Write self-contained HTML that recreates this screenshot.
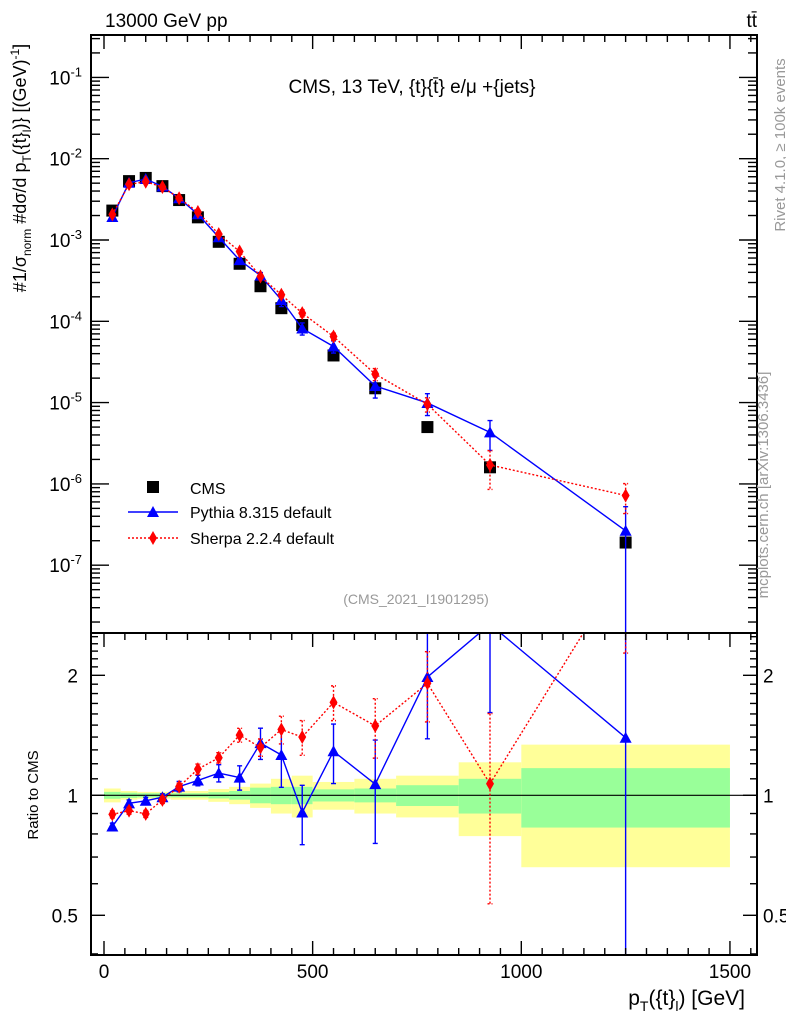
<!DOCTYPE html>
<html><head><meta charset="utf-8"><style>
html,body{margin:0;padding:0;background:#fff;overflow:hidden;width:786px;height:1024px;}
svg{display:block;}
svg text{font-family:"Liberation Sans",sans-serif;}
</style></head><body>
<svg id="c" width="786" height="1024" xmlns="http://www.w3.org/2000/svg">
<defs>
<clipPath id="cm"><rect x="91" y="35" width="666" height="598"/></clipPath>
<clipPath id="cr"><rect x="91" y="634" width="666" height="321"/></clipPath>
</defs>
<g id="bands" clip-path="url(#cr)"></g>
<g id="marks"></g>
<rect x="91" y="35" width="666" height="598" fill="none" stroke="#000" stroke-width="2"/>
<rect x="91" y="633" width="666" height="322" fill="none" stroke="#000" stroke-width="2"/>
<g id="axes"></g>
<text x="105" y="27" font-size="19">13000 GeV pp</text>
<text x="757" y="27" font-size="19" text-anchor="end">tt̄</text>
<text x="412" y="93" font-size="19" text-anchor="middle">CMS, 13 TeV, {t}{t̄} e/μ +{jets}</text>
<text x="416" y="604" font-size="14" fill="#999" text-anchor="middle">(CMS_2021_I1901295)</text>
<text transform="translate(785,145) rotate(-90)" font-size="15" fill="#999" text-anchor="middle">Rivet 4.1.0, ≥ 100k events</text>
<text transform="translate(768,485) rotate(-90)" font-size="15" fill="#999" text-anchor="middle">mcplots.cern.ch [arXiv:1306.3436]</text>
<text transform="translate(38,795) rotate(-90)" font-size="15" text-anchor="middle">Ratio to CMS</text>
<text transform="translate(26,168) rotate(-90)" font-size="18" text-anchor="middle">#1/σ<tspan font-size="12" dy="5">norm</tspan><tspan dy="-5"> #dσ/d p</tspan><tspan font-size="12" dy="5">T</tspan><tspan dy="-5">({t}</tspan><tspan font-size="12" dy="5">l</tspan><tspan dy="-5">)} [(GeV)</tspan><tspan font-size="12" dy="-7">-1</tspan><tspan dy="7">]</tspan></text>
<text x="745" y="1005" font-size="21" text-anchor="end">p<tspan font-size="14" dy="6">T</tspan><tspan dy="-6">({t}</tspan><tspan font-size="14" dy="6">l</tspan><tspan dy="-6">) [GeV]</tspan></text>
<g>
<rect x="147" y="481" width="12" height="12" fill="#000"/>
<text x="190" y="494" font-size="16">CMS</text>
<line x1="128" y1="512" x2="178" y2="512" stroke="#00f" stroke-width="1.5"/>
<path d="M153,506 L159,517 L147,517Z" fill="#00f"/>
<text x="190" y="518" font-size="16">Pythia 8.315 default</text>
<line x1="128" y1="538" x2="178" y2="538" stroke="#f00" stroke-width="1.5" stroke-dasharray="2,2"/>
<path d="M153,531 L157,538 L153,545 L149,538Z" fill="#f00"/>
<text x="190" y="544" font-size="16">Sherpa 2.2.4 default</text>
</g>
</svg>
<script>
const binEdges=[0,40,80,120,160,200,250,300,350,400,450,500,600,700,850,1000,1500];
const cms=[2.3e-3,5.3e-3,5.8e-3,4.6e-3,3.1e-3,1.9e-3,9.5e-4,5.1e-4,2.7e-4,1.45e-4,9e-5,3.8e-5,1.5e-5,5e-6,1.6e-6,1.9e-7];
const pythia=[1.92e-3,5.06e-3,5.62e-3,4.55e-3,3.26e-3,2.07e-3,1.08e-3,5.65e-4,3.65e-4,1.83e-4,8.15e-5,4.9e-5,1.6e-5,9.9e-6,4.3e-6,2.65e-7];
const pythiaErr=[0.02,0.02,0.02,0.02,0.03,0.03,0.05,0.07,0.09,0.17,0.17,0.17,0.29,0.3,0.4,0.98];
const sherpa=[2.06e-3,4.85e-3,5.21e-3,4.48e-3,3.26e-3,2.21e-3,1.18e-3,7.22e-4,3.56e-4,2.12e-4,1.26e-4,6.5e-5,2.24e-5,9.55e-6,1.71e-6,7.2e-7];
const sherpaErr=[0.02,0.02,0.02,0.02,0.02,0.03,0.03,0.04,0.05,0.08,0.1,0.1,0.17,0.2,0.5,0.4];
const statErr=[0.02,0.015,0.012,0.012,0.012,0.012,0.018,0.025,0.045,0.05,0.05,0.035,0.04,0.06,0.1,0.17];
const totErr=[0.04,0.025,0.02,0.02,0.025,0.025,0.037,0.05,0.07,0.1,0.12,0.08,0.1,0.12,0.21,0.34];
const xTicks=[0,500,1000,1500];
const yExps=[-7,-6,-5,-4,-3,-2,-1];
const rTicks=[0.5,1,2];

const NS='http://www.w3.org/2000/svg';
const X=v=>104+v*0.4173;
const Y=v=>240-81.3*Math.log10(v/1e-3);
const R=v=>795.3-398.6*Math.log10(v);
function el(t,a,p){const e=document.createElementNS(NS,t);for(const k in a)e.setAttribute(k,a[k]);(p||document.getElementById('marks')).appendChild(e);return e;}
const bands=document.getElementById('bands'),axes=document.getElementById('axes');
const centers=cms.map((_,i)=>(binEdges[i]+binEdges[i+1])/2);
for(let i=0;i<cms.length;i++){
 const x1=X(binEdges[i]),x2=X(binEdges[i+1]);
 const b=el('rect',{x:x1,y:R(1+totErr[i]),width:x2-x1,height:R(1-totErr[i])-R(1+totErr[i]),fill:'#ffff99'},bands);
 
 
 const g=el('rect',{x:x1,y:R(1+statErr[i]),width:x2-x1,height:R(1-statErr[i])-R(1+statErr[i]),fill:'#99ff99'},bands);
 
 
}
const one=el('line',{x1:91,x2:757,y1:R(1),y2:R(1),stroke:'#000','stroke-width':1.2},bands);


const gm=el('g',{'clip-path':'url(#cm)'});
const gr=el('g',{'clip-path':'url(#cr)'});
function series(vals,errs,col,dash,shape,name){
 const mp=vals.map((v,i)=>X(centers[i])+','+Y(v)).join(' ');
 const rp=vals.map((v,i)=>X(centers[i])+','+R(v/cms[i])).join(' ');
 const l1=el('polyline',{points:mp,fill:'none',stroke:col,'stroke-width':1.4,'stroke-dasharray':dash},gm);
 
 
 const l2=el('polyline',{points:rp,fill:'none',stroke:col,'stroke-width':1.4,'stroke-dasharray':dash},gr);
 
 
 vals.forEach((v,i)=>{
  const x=X(centers[i]);
  [[gm,Y(v),Y(v*(1+errs[i])),Y(Math.max(v*(1-errs[i]),1e-12))],[gr,R(v/cms[i]),R(v/cms[i]*(1+errs[i])),R(Math.max(v/cms[i]*(1-errs[i]),1e-6))]].forEach(([g,y,yt,yb],k)=>{
   const e=el('path',{d:`M${x},${yt}L${x},${yb}M${x-2.5},${yt}h5M${x-2.5},${yb}h5`,stroke:col,'stroke-width':1.4,fill:'none','stroke-dasharray':dash},g);
   
   
   const m=shape==='tri'?el('path',{d:`M${x},${y-6}L${x+6},${y+5}L${x-6},${y+5}Z`,fill:col},g):el('path',{d:`M${x},${y-7}L${x+4},${y}L${x},${y+7}L${x-4},${y}Z`,fill:col},g);
   
   
  });
 });
}
cms.forEach((v,i)=>{
 const m=el('rect',{x:X(centers[i])-6,y:Y(v)-6,width:12,height:12,fill:'#000'},gm);
 
 
});
series(pythia,pythiaErr,'#00f','none','tri','pythia');
series(sherpa,sherpaErr,'#f00','2,2','dia','sherpa');
for(let v=0;v<=1550;v+=50){const x=X(v);if(x>757)break;const L=v%500===0?14:7;
 [[35,35+L],[633,633+L],[955,955-L]].forEach(([a,b])=>el('line',{x1:x,x2:x,y1:a,y2:b,stroke:'#000','stroke-width':1.4},axes));}
xTicks.forEach(v=>{const t=el('text',{x:X(v),y:978,'font-size':19,'text-anchor':'middle'},axes);t.textContent=v;
 
 });
for(let e=-8;e<=0;e++)for(let m=1;m<10;m++){const y=Y(m*Math.pow(10,e));if(y<35||y>633)continue;const L=m===1?18:9;
 el('line',{x1:91,x2:91+L,y1:y,y2:y,stroke:'#000','stroke-width':1.4},axes);
 el('line',{x1:757,x2:757-L,y1:y,y2:y,stroke:'#000','stroke-width':1.4},axes);}
yExps.forEach(e=>{const t=el('text',{x:82,y:Y(Math.pow(10,e))+7,'font-size':19,'text-anchor':'end'},axes);
 t.innerHTML='10<tspan font-size="13" dy="-8">'+e+'</tspan>';
 
 });
[0.4,0.5,0.6,0.7,0.8,0.9,1,1.1,1.2,1.3,1.4,1.5,1.6,1.7,1.8,1.9,2,2.1,2.2,2.3,2.4,2.5].forEach(v=>{const y=R(v);if(y<634||y>955)return;const L=rTicks.includes(v)?14:7;
 el('line',{x1:91,x2:91+L,y1:y,y2:y,stroke:'#000','stroke-width':1.4},axes);
 el('line',{x1:757,x2:757-L,y1:y,y2:y,stroke:'#000','stroke-width':1.4},axes);});
rTicks.forEach(v=>{[[78,'end'],[763,'start']].forEach(([x,a])=>{const t=el('text',{x:x,y:R(v)+7,'font-size':19,'text-anchor':a},axes);t.textContent=v;
 
 });});
</script>
</body></html>
